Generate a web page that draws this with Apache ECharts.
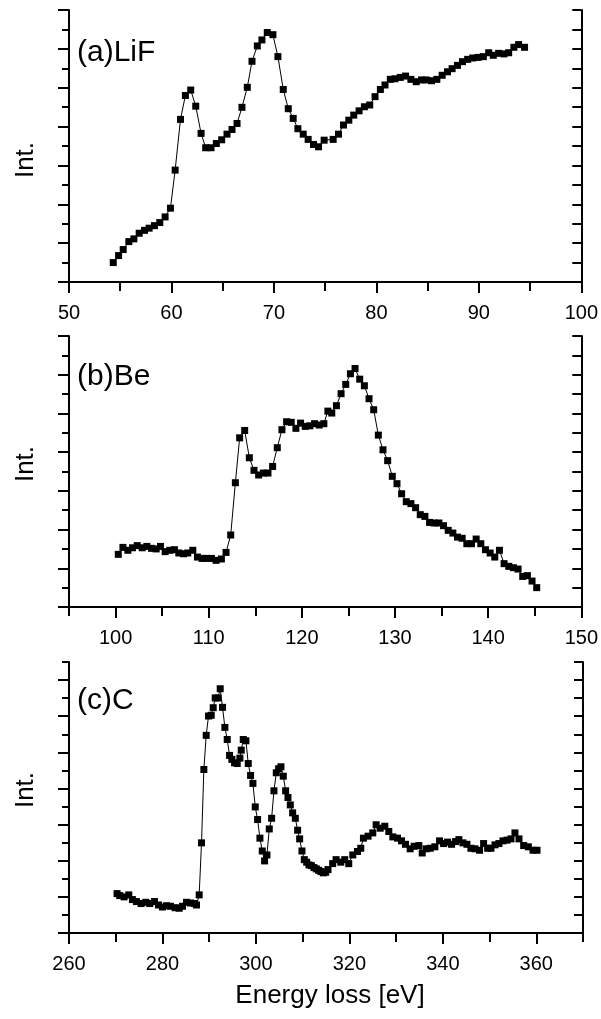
<!DOCTYPE html>
<html>
<head>
<meta charset="utf-8">
<script src="https://cdn.jsdelivr.net/npm/echarts@6/dist/echarts.min.js"></script>
<style>
html,body{margin:0;padding:0;background:#fff;}
#chart{width:601px;height:1019px;}
</style>
</head>
<body>
<div id="chart"></div>
<script>
// ---- Data (y in arbitrary intensity units) ----
const lifX = [54.32,54.84,55.29,55.84,56.33,56.85,57.37,57.82,58.34,58.86,59.38,59.90,60.36,60.88,61.36,61.88,62.37,62.89,63.34,63.86,64.38,64.90,65.42,65.91,66.40,66.88,67.40,67.86,68.38,68.83,69.35,69.90,70.39,70.91,71.40,71.88,72.34,72.86,73.34,73.86,74.35,74.90,75.78,76.30,76.79,77.31,77.79,78.31,78.83,79.35,79.87,80.39,80.84,81.36,81.81,82.33,82.85,83.37,83.89,84.41,84.86,85.38,85.90,86.42,86.94,87.39,87.91,88.40,88.91,89.40,89.92,90.44,90.96,91.41,91.93,92.45,92.91,93.42,93.88,94.46];
const lifY = [1.00,1.36,1.67,2.08,2.22,2.51,2.66,2.77,2.90,3.06,3.35,3.80,5.76,8.37,9.60,9.88,9.05,7.65,6.91,6.91,7.13,7.32,7.61,7.85,8.16,8.99,10.02,11.36,12.15,12.46,12.84,12.73,11.60,9.91,8.92,8.42,7.89,7.61,7.34,7.08,6.96,7.30,7.34,7.61,8.08,8.33,8.59,8.81,9.02,9.11,9.54,9.91,10.14,10.43,10.46,10.53,10.60,10.43,10.31,10.40,10.40,10.36,10.43,10.64,10.82,10.98,11.15,11.34,11.46,11.53,11.56,11.60,11.80,11.67,11.77,11.74,11.80,12.08,12.22,12.08];

const beX = [100.29,100.79,101.32,101.82,102.32,102.86,103.36,103.86,104.36,104.82,105.32,105.82,106.32,106.79,107.29,107.75,108.29,108.79,109.29,109.79,110.29,110.79,111.36,111.86,112.36,112.86,113.32,113.86,114.36,114.86,115.36,115.86,116.36,116.86,117.36,117.86,118.36,118.86,119.36,119.86,120.36,120.86,121.36,121.86,122.36,122.79,123.21,123.71,124.21,124.71,125.21,125.71,126.21,126.71,127.21,127.71,128.21,128.71,129.21,129.71,130.21,130.71,131.21,131.71,132.21,132.71,133.21,133.71,134.21,134.71,135.21,135.71,136.21,136.71,137.21,137.71,138.21,138.71,139.21,139.71,140.21,140.71,141.21,141.71,142.21,142.71,143.21,143.71,144.21,144.71,145.21];
const beY = [2.72,3.08,2.93,3.06,3.17,3.06,3.13,3.03,3.00,3.13,2.86,2.93,2.96,2.79,2.75,2.79,2.93,2.58,2.51,2.51,2.51,2.41,2.48,2.82,3.72,6.42,8.74,9.12,7.71,7.06,6.82,6.92,6.92,7.26,8.23,9.16,9.57,9.54,9.23,9.50,9.33,9.36,9.47,9.40,9.47,10.12,10.02,10.40,11.02,11.50,12.05,12.32,11.77,11.43,10.76,10.19,8.88,8.12,7.56,6.75,6.37,5.85,5.44,5.34,5.13,4.77,4.68,4.37,4.34,4.34,4.20,3.96,3.82,3.61,3.55,3.27,3.27,3.51,3.27,2.96,2.79,2.58,2.93,2.24,2.10,2.03,1.96,1.58,1.62,1.34,1.00];

const cX = [270.29,270.86,271.79,272.79,273.57,274.43,275.43,276.43,277.29,278.29,279.14,280.00,280.86,281.71,282.71,283.57,284.29,285.14,286.00,286.86,287.29,287.86,288.36,288.86,289.36,289.86,290.43,290.86,291.29,291.86,292.36,292.86,293.36,293.86,294.36,294.86,295.43,296.00,296.57,296.86,297.29,297.86,298.36,298.86,299.36,299.86,300.36,300.86,301.36,301.86,302.36,302.86,303.36,303.86,304.36,304.86,305.36,305.86,306.36,306.86,307.36,307.86,308.43,308.93,309.36,309.86,310.36,310.86,311.36,311.86,312.43,312.93,313.43,313.93,314.43,314.93,315.43,316.43,317.16,318.16,319.01,319.87,320.73,321.73,322.44,323.01,324.01,325.01,325.73,326.59,327.59,328.44,329.30,330.30,331.16,332.01,333.01,333.87,334.87,335.59,336.44,337.30,338.30,339.30,340.16,341.01,341.87,342.73,343.44,344.30,345.16,346.01,346.87,347.87,348.73,349.59,350.30,351.16,352.01,352.87,353.73,354.59,355.44,356.30,357.30,358.30,359.30,360.16];
const cY = [2.18,2.07,2.00,2.11,1.85,1.74,1.63,1.70,1.63,1.74,1.55,1.44,1.51,1.48,1.40,1.37,1.48,1.70,1.66,1.63,1.55,2.11,4.99,9.05,10.94,12.01,12.05,12.47,13.01,13.01,13.52,12.49,11.38,10.71,9.83,9.61,9.42,9.38,9.68,10.12,10.71,10.64,9.38,8.72,8.28,6.98,6.28,5.25,4.54,3.99,4.32,5.76,6.35,7.87,8.87,9.09,9.20,8.68,7.87,7.50,7.09,6.65,6.35,5.69,5.21,4.54,4.06,3.92,3.77,3.73,3.62,3.55,3.47,3.40,3.33,3.36,3.51,3.84,4.06,3.92,4.06,3.84,4.32,4.51,4.69,5.25,5.36,5.54,5.99,5.80,5.91,5.62,5.32,5.25,5.10,4.91,4.66,4.80,4.84,4.43,4.66,4.69,4.77,5.10,4.95,5.03,4.91,5.06,5.17,4.99,4.91,4.69,4.66,4.58,4.95,4.69,4.69,4.88,4.95,5.10,5.14,5.21,5.54,5.21,4.84,4.77,4.58,4.58];

// ---- Tick values ----
const lifMajor = [50,60,70,80,90,100];
const lifMinor = [55,65,75,85,95];
const beMajor  = [100,110,120,130,140,150];
const beMinor  = [95,105,115,125,135,145];
const cMajor   = [260,280,300,320,340,360];
const cMinor   = [270,290,310,330,350,370];
const yMajorTicks = [0,2,4,6,8,10,12,14];
const yMinorAB = [1,3,5,7,9,11,13];
const yMinorC  = [1,3,5,7,9,11,13,15];
const yAllAB = [0,1,2,3,4,5,6,7,8,9,10,11,12,13,14];
const yAllC  = [0,1,2,3,4,5,6,7,8,9,10,11,12,13,14,15];

const panelLabels = ['(a)LiF','(b)Be','(c)C'];
const yName = 'Int.';
const xName = 'Energy loss [eV]';

// ---- Layout ----
const FONT = 'Liberation Sans, Arial, Helvetica, sans-serif';
const panels = [
  {x:lifX, y:lifY, major:lifMajor, minor:lifMinor, xmin:50, xmax:100, ymax:14, yMinor:yMinorAB, yAll:yAllAB, top:10, height:272, width:514, labelY:55, intY:160},
  {x:beX, y:beY, major:beMajor, minor:beMinor, xmin:95, xmax:150, ymax:14, yMinor:yMinorAB, yAll:yAllAB, top:336, height:271, width:515, labelY:379, intY:464},
  {x:cX, y:cY, major:cMajor, minor:cMinor, xmin:260, xmax:370, ymax:15, yMinor:yMinorC, yAll:yAllC, top:662, height:271, width:514, labelY:703, intY:790}
];

const line = {show:true, lineStyle:{color:'#000', width:2}};
const grid = [], xAxis = [], yAxis = [], series = [], graphic = [];

panels.forEach((p, i) => {
  grid.push({left:69, top:p.top, width:p.width, height:p.height, containLabel:false});
  const xb = xAxis.length;
  // bottom main (major ticks + labels)
  xAxis.push({type:'value', gridIndex:i, position:'bottom', min:p.xmin, max:p.xmax,
    axisLine:line, splitLine:{show:false},
    axisTick:{show:true, inside:false, length:11, customValues:p.major, lineStyle:{color:'#000', width:2}},
    axisLabel:{show:true, customValues:p.major, margin:21, fontSize:20, color:'#000', fontFamily:FONT}});
  // bottom minor ticks
  xAxis.push({type:'value', gridIndex:i, position:'bottom', min:p.xmin, max:p.xmax,
    axisLine:{show:false}, splitLine:{show:false}, axisLabel:{show:false},
    axisTick:{show:true, inside:false, length:6, customValues:p.minor, lineStyle:{color:'#000', width:2}}});
  // top (inward ticks)
  xAxis.push({type:'value', gridIndex:i, position:'top', min:p.xmin, max:p.xmax,
    axisLine:line, splitLine:{show:false}, axisLabel:{show:false},
    axisTick:{show:true, inside:true, length:9, customValues:p.major.concat(p.minor), lineStyle:{color:'#000', width:2}}});

  const yb = yAxis.length;
  yAxis.push({type:'value', gridIndex:i, position:'left', min:0, max:p.ymax,
    axisLine:line, splitLine:{show:false}, axisLabel:{show:false},
    axisTick:{show:true, inside:false, length:11, customValues:yMajorTicks, lineStyle:{color:'#000', width:2}}});
  yAxis.push({type:'value', gridIndex:i, position:'left', min:0, max:p.ymax,
    axisLine:{show:false}, splitLine:{show:false}, axisLabel:{show:false},
    axisTick:{show:true, inside:false, length:7, customValues:p.yMinor, lineStyle:{color:'#000', width:2}}});
  yAxis.push({type:'value', gridIndex:i, position:'right', min:0, max:p.ymax,
    axisLine:line, splitLine:{show:false}, axisLabel:{show:false},
    axisTick:{show:true, inside:true, length:9, customValues:p.yAll, lineStyle:{color:'#000', width:2}}});

  series.push({type:'line', xAxisIndex:xb, yAxisIndex:yb,
    data:p.x.map((v, k) => [v, p.y[k]]),
    symbol:'rect', symbolSize:7, showAllSymbol:true,
    itemStyle:{color:'#000'}, lineStyle:{color:'#000', width:1}, clip:false});

  graphic.push({type:'text', left:77, top:p.labelY - 17,
    style:{text:panelLabels[i], fontSize:30, fontFamily:FONT, fill:'#000'}});
  graphic.push({type:'text', x:26, y:p.intY, rotation:Math.PI/2,
    style:{text:yName, fontSize:26, fontFamily:FONT, fill:'#000', align:'center', verticalAlign:'middle'}});
});

graphic.push({type:'text', x:330, y:996,
  style:{text:xName, fontSize:26, fontFamily:FONT, fill:'#000', align:'center', verticalAlign:'middle'}});

const chart = echarts.init(document.getElementById('chart'), null, {renderer:'canvas'});
chart.setOption({animation:false, backgroundColor:'#fff', grid, xAxis, yAxis, series, graphic});
</script>
</body>
</html>
